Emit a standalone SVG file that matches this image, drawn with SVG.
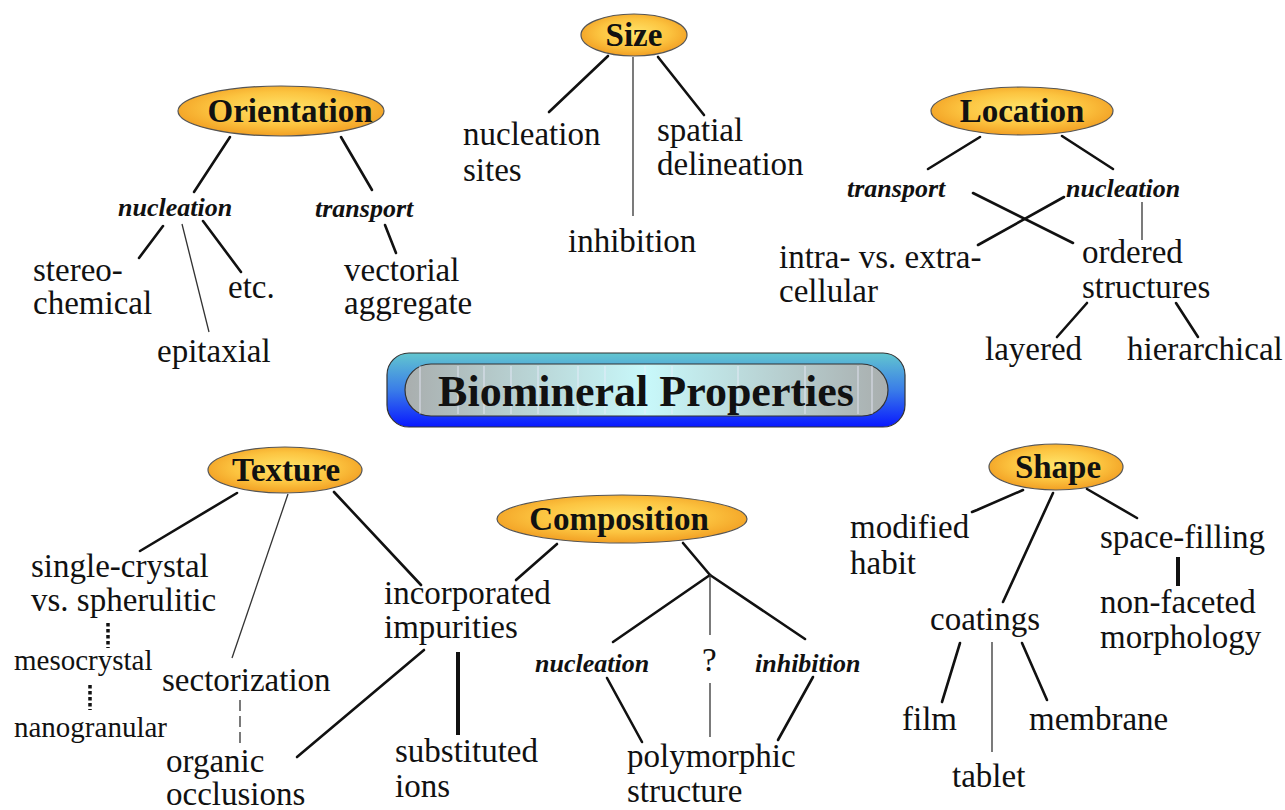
<svg xmlns="http://www.w3.org/2000/svg" width="1285" height="810" viewBox="0 0 1285 810">
<defs>
<radialGradient id="og" cx="50%" cy="45%" r="55%">
<stop offset="0" stop-color="#ffe46a"/>
<stop offset="0.6" stop-color="#fcc440"/>
<stop offset="1" stop-color="#f2a024"/>
</radialGradient>
<linearGradient id="outer" x1="0" y1="0" x2="0" y2="1">
<stop offset="0" stop-color="#62c6cf"/>
<stop offset="0.5" stop-color="#3a7de8"/>
<stop offset="1" stop-color="#0818ff"/>
</linearGradient>
<linearGradient id="inner" x1="0" y1="0" x2="1" y2="0">
<stop offset="0" stop-color="#a9aeae"/>
<stop offset="0.5" stop-color="#c8f8fa"/>
<stop offset="1" stop-color="#a9aeae"/>
</linearGradient>
<style>
text{font-family:"Liberation Serif","Times New Roman","DejaVu Serif",serif}
.t{font-size:33px;fill:#111}
.s{font-size:29px;fill:#111}
.i{font-size:26px;font-style:italic;font-weight:bold;fill:#111}
.h{font-size:33px;font-weight:bold;fill:#111;text-anchor:middle}
.e{fill:url(#og);stroke:#555;stroke-width:1.2}
.k{stroke:#111;stroke-width:2.6;fill:none;stroke-linecap:round}
.n{stroke:#333;stroke-width:1.3;fill:none}
.b{stroke:#111;stroke-width:4;fill:none}
</style>
</defs>
<rect width="1285" height="810" fill="#fff"/>

<g id="connectors">
<line class="k" x1="608" y1="56" x2="549" y2="112"/>
<line class="n" x1="633" y1="57" x2="633" y2="216"/>
<line class="k" x1="658" y1="57" x2="704" y2="115"/>
<line class="k" x1="230" y1="137" x2="194" y2="192"/>
<line class="k" x1="341" y1="137" x2="372" y2="190"/>
<line class="k" x1="163" y1="226" x2="139" y2="258"/>
<line class="n" x1="182" y1="224" x2="209" y2="332"/>
<line class="k" x1="203" y1="221" x2="241" y2="272"/>
<line class="k" x1="385" y1="225" x2="396" y2="253"/>
<line class="k" x1="980" y1="137" x2="928" y2="169"/>
<line class="k" x1="1062" y1="136" x2="1113" y2="169"/>
<line class="k" x1="973" y1="193" x2="1073" y2="243"/>
<line class="k" x1="1064" y1="197" x2="978" y2="245"/>
<line class="n" x1="1142" y1="202" x2="1142" y2="240"/>
<line class="k" x1="1087" y1="303" x2="1057" y2="337"/>
<line class="k" x1="1176" y1="303" x2="1198" y2="337"/>
<line class="k" x1="237" y1="493" x2="140" y2="551"/>
<line class="n" x1="288" y1="494" x2="232" y2="658"/>
<line class="k" x1="334" y1="492" x2="421" y2="585"/>
<line stroke="#111" stroke-width="3.5" stroke-dasharray="3.5,2.5" x1="108" y1="623" x2="108" y2="648"/>
<line stroke="#111" stroke-width="3.5" stroke-dasharray="3.5,2.5" x1="90" y1="685" x2="90" y2="710"/>
<line class="n" stroke-dasharray="11,5" x1="240" y1="700" x2="240" y2="743"/>
<line class="k" x1="424" y1="650" x2="297" y2="757"/>
<line class="b" x1="458" y1="652" x2="458" y2="735"/>
<line class="k" x1="557" y1="544" x2="516" y2="580"/>
<line class="k" x1="683" y1="543" x2="710" y2="575"/>
<line class="k" x1="710" y1="575" x2="613" y2="642"/>
<line class="k" x1="710" y1="575" x2="805" y2="639"/>
<line class="n" x1="710" y1="575" x2="710" y2="635"/>
<line class="k" x1="607" y1="678" x2="642" y2="742"/>
<line class="n" x1="710" y1="683" x2="710" y2="737"/>
<line class="k" x1="813" y1="677" x2="778" y2="740"/>
<polyline class="k" points="1023,490 977,510 972,512"/>
<line class="k" x1="1053" y1="493" x2="1003" y2="602"/>
<line class="k" x1="1087" y1="489" x2="1137" y2="518"/>
<line class="b" x1="1178" y1="557" x2="1178" y2="586"/>
<line class="k" x1="960" y1="643" x2="942" y2="702"/>
<line class="n" x1="992" y1="642" x2="992" y2="752"/>
<line class="k" x1="1022" y1="643" x2="1047" y2="700"/>
</g>

<g id="title">
<rect x="387" y="353" width="518" height="74" rx="22" fill="url(#outer)" stroke="#333" stroke-width="1.2"/>
<rect x="405" y="364" width="483" height="52" rx="26" fill="url(#inner)" stroke="#333" stroke-width="1.2"/>
<g stroke="#eef" stroke-width="1" opacity="0.8">
<line x1="420" y1="366" x2="420" y2="414"/>
<line x1="458" y1="366" x2="458" y2="414"/>
<line x1="484" y1="366" x2="484" y2="414"/>
<line x1="511" y1="366" x2="511" y2="414"/>
<line x1="538" y1="366" x2="538" y2="414"/>
<line x1="578" y1="366" x2="578" y2="414"/>
<line x1="605" y1="366" x2="605" y2="414"/>
<line x1="645" y1="366" x2="645" y2="414"/>
<line x1="672" y1="366" x2="672" y2="414"/>
<line x1="738" y1="366" x2="738" y2="414"/>
<line x1="805" y1="366" x2="805" y2="414"/>
<line x1="858" y1="366" x2="858" y2="414"/>
<line x1="872" y1="366" x2="872" y2="414"/>
</g>
<text x="646" y="406" font-size="44" font-weight="bold" fill="#111" text-anchor="middle">Biomineral Properties</text>
</g>

<g id="size">
<ellipse class="e" cx="634" cy="35" rx="53" ry="21"/>
<text class="h" x="634" y="46">Size</text>
<text class="t" x="463" y="145">nucleation</text>
<text class="t" x="463" y="181">sites</text>
<text class="t" x="657" y="141">spatial</text>
<text class="t" x="657" y="175">delineation</text>
<text class="t" x="568" y="252">inhibition</text>
</g>

<g id="orientation">
<ellipse class="e" cx="281" cy="111" rx="103" ry="25"/>
<text class="h" x="290" y="122">Orientation</text>
<text class="i" x="118" y="216">nucleation</text>
<text class="i" x="315" y="217">transport</text>
<text class="t" x="33" y="281">stereo-</text>
<text class="t" x="33" y="314">chemical</text>
<text class="t" x="228" y="298">etc.</text>
<text class="t" x="157" y="362">epitaxial</text>
<text class="t" x="344" y="281">vectorial</text>
<text class="t" x="344" y="314">aggregate</text>
</g>

<g id="location">
<ellipse class="e" cx="1022" cy="111" rx="91" ry="24"/>
<text class="h" x="1022" y="122">Location</text>
<text class="i" x="847" y="197">transport</text>
<text class="i" x="1066" y="197">nucleation</text>
<text class="t" x="779" y="268">intra- vs. extra-</text>
<text class="t" x="779" y="302">cellular</text>
<text class="t" x="1082" y="263">ordered</text>
<text class="t" x="1082" y="298">structures</text>
<text class="t" x="985" y="360">layered</text>
<text class="t" x="1127" y="360">hierarchical</text>
</g>

<g id="texture">
<ellipse class="e" cx="285" cy="470" rx="77" ry="23"/>
<text class="h" x="286" y="481">Texture</text>
<text class="t" x="31" y="577">single-crystal</text>
<text class="t" x="31" y="611">vs. spherulitic</text>
<text class="s" x="14" y="670">mesocrystal</text>
<text class="s" x="14" y="737">nanogranular</text>
<text class="t" x="162" y="691">sectorization</text>
<text class="t" x="166" y="772">organic</text>
<text class="t" x="166" y="805">occlusions</text>
<text class="t" x="384" y="604">incorporated</text>
<text class="t" x="384" y="638">impurities</text>
<text class="t" x="395" y="762">substituted</text>
<text class="t" x="395" y="797">ions</text>
</g>

<g id="composition">
<ellipse class="e" cx="622" cy="519" rx="125" ry="24"/>
<text class="h" x="619" y="530">Composition</text>
<text class="i" x="535" y="672">nucleation</text>
<text class="t" x="702" y="671">?</text>
<text class="i" x="755" y="672">inhibition</text>
<text class="t" x="627" y="767">polymorphic</text>
<text class="t" x="627" y="802">structure</text>
</g>

<g id="shape">
<ellipse class="e" cx="1056" cy="467" rx="67" ry="23"/>
<text class="h" x="1058" y="478">Shape</text>
<text class="t" x="850" y="538">modified</text>
<text class="t" x="850" y="574">habit</text>
<text class="t" x="1100" y="548">space-filling</text>
<text class="t" x="1100" y="613">non-faceted</text>
<text class="t" x="1100" y="648">morphology</text>
<text class="t" x="930" y="630">coatings</text>
<text class="t" x="902" y="730">film</text>
<text class="t" x="1029" y="730">membrane</text>
<text class="t" x="952" y="787">tablet</text>
</g>
</svg>
